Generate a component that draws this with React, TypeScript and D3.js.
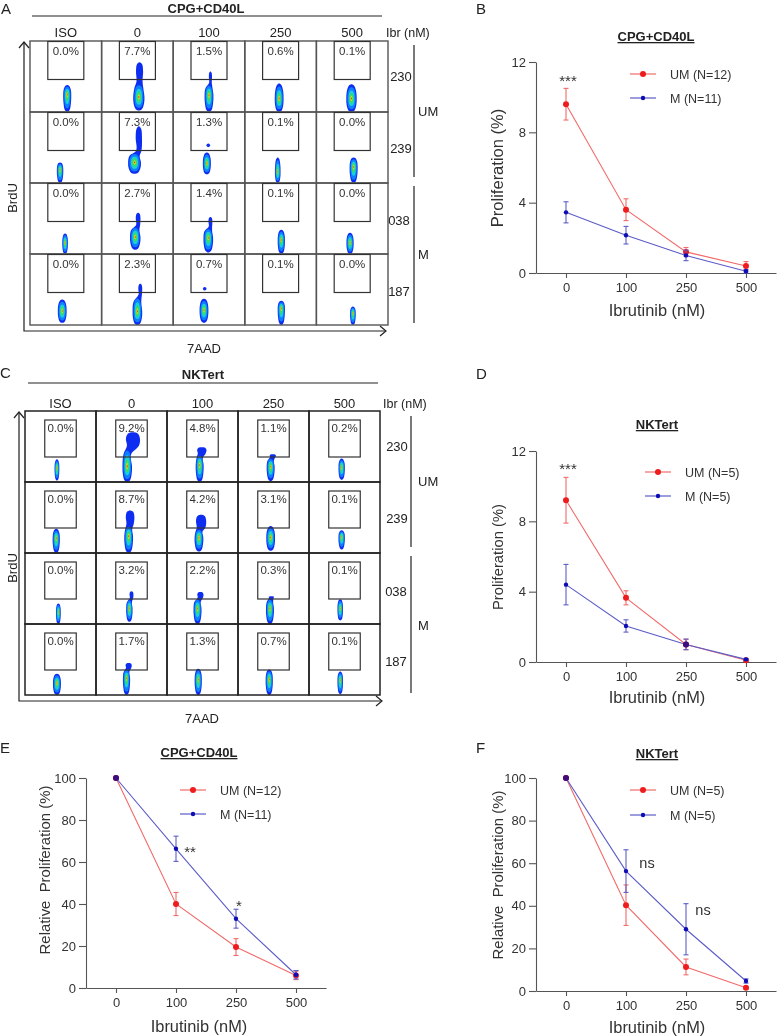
import { useEffect, useRef } from "react";
import * as d3 from "d3";

// ---- flow panels ----
const flowColumns = ["ISO", "0", "100", "250", "500"];
const flowRows = ["230", "239", "038", "187"];

const pctA = [
  ["0.0%", "7.7%", "1.5%", "0.6%", "0.1%"],
  ["0.0%", "7.3%", "1.3%", "0.1%", "0.0%"],
  ["0.0%", "2.7%", "1.4%", "0.1%", "0.0%"],
  ["0.0%", "2.3%", "0.7%", "0.1%", "0.0%"],
];
const pctC = [
  ["0.0%", "9.2%", "4.8%", "1.1%", "0.2%"],
  ["0.0%", "8.7%", "4.2%", "3.1%", "0.1%"],
  ["0.0%", "3.2%", "2.2%", "0.3%", "0.1%"],
  ["0.0%", "1.7%", "1.3%", "0.7%", "0.1%"],
];

// populations in % of plot range: [7AAD, BrdU, low, high, spread, tailTop, tailX, tailSpread, dotX, dotY]
const popsA = [
  [[52, 25, 0, 38, 5], [52, 21, 2, 42, 7, 70, 53, 4.5], [50, 24, 0, 40, 5.5, 57, 52, 2], [48, 19, 0, 40, 5.5], [49, 19, 0, 39, 6.5]],
  [[42, 19, 0, 29, 4], [46, 29, 13, 44, 8, 80, 52, 4], [47, 28, 12, 43, 5, 0, 0, 0, 49, 53], [46, 16, 0, 36, 3.5], [52, 23, 0, 36, 5]],
  [[49, 16, 0, 29, 3.5], [47, 24, 6, 40, 6.5, 58, 51, 3], [49, 23, 2, 38, 6, 52, 52, 2.5], [51, 20, 0, 34, 4.5], [47, 16, 0, 30, 4.5]],
  [[45, 20, 3, 36, 5.5], [50, 19, 0, 42, 6, 58, 54, 2.5], [43, 21, 3, 37, 5.5, 0, 0, 0, 44, 51], [51, 24, 0, 34, 4.5], [51, 17, 0, 26, 3.5]],
];
const popsC = [
  [[45, 20, 2, 32, 3], [44, 22, 0, 50, 6, 70, 52, 9], [46, 24, 0, 40, 5, 49, 49, 6], [46, 22, 1, 35, 5, 39, 49, 4], [46, 21, 3, 33, 4]],
  [[44, 21, 0, 34, 4.5], [46, 24, 0, 40, 5.5, 60, 48, 5.5], [45, 22, 2, 35, 5.5, 54, 48, 6.5], [46, 22, 3, 38, 5.5], [46, 23, 5, 32, 4]],
  [[47, 17, 0, 29, 3], [47, 22, 3, 36, 4, 46, 50, 2.5], [43, 22, 0, 37, 5, 45, 47, 4], [45, 22, 0, 37, 5, 39, 47, 3.5], [44, 22, 5, 35, 3.5]],
  [[45, 17, 0, 30, 5], [43, 24, 0, 38, 4.5, 45, 46, 4], [44, 22, 0, 37, 4.5], [44, 22, 0, 36, 4.5], [44, 21, 1, 33, 3.5]],
];

const densityColors = ["#0f2ef0", "#0a80ff", "#1cd0d0", "#3cdc5a", "#e6d818", "#e03010"];
const densityLevels = [1, 0.8, 0.56, 0.36, 0.18, 0.08];

// ---- line charts ----
const doses = ["0", "100", "250", "500"];

const umB = [9.6, 3.6, 1.2, 0.4];
const umBErr = [0.9, 0.62, 0.25, 0.25];
const mB = [3.45, 2.15, 1.0, 0.1];
const mBErr = [0.6, 0.5, 0.3, 0.1];

const umD = [9.2, 3.65, 1.0, 0.1];
const umDErr = [1.3, 0.4, 0.3, 0.05];
const mD = [4.4, 2.05, 1.0, 0.15];
const mDErr = [1.15, 0.35, 0.3, 0.05];

const umE = [100, 40, 19.5, 6];
const umEErr = [0, 5.5, 4, 2];
const mE = [100, 66.3, 33, 6.3];
const mEErr = [0, 6, 4.5, 2];

const umF = [100, 40.3, 11.3, 1.5];
const umFErr = [0, 9.5, 3.7, 0.5];
const mF = [100, 56.3, 29, 4.7];
const mFErr = [0, 10, 12, 1];

const FONT = "'Liberation Sans', Arial, sans-serif";
const RED = "#ee1c1c";
const BLUE = "#0a0ab4";

function put(g: any, x: number, y: number, s: string, size: number, opts: any = {}) {
  return g
    .append("text")
    .attr("x", x)
    .attr("y", y)
    .attr("font-size", size)
    .attr("font-weight", opts.bold ? 700 : 400)
    .attr("fill", opts.fill || "#222")
    .attr("text-anchor", opts.anchor || "middle")
    .style("white-space", "pre")
    .text(s);
}

// rounded contour of one population, with an optional tail of S-phase cells going up
function outline(p: number[]) {
  const [x, y, lo, hi, w0, tailTop, tailX, tailW] = p;
  const w = w0 * 1.12;
  const low = (t: number) => y - (y - lo) * t;
  const high = (t: number) => y + (hi - y) * t;
  const left: [number, number][] = [
    [x, lo],
    [x - w * 0.55, low(0.9)],
    [x - w * 0.92, low(0.5)],
    [x - w, y],
  ];
  const right: [number, number][] = [
    [x + w, y],
    [x + w * 0.92, low(0.5)],
    [x + w * 0.55, low(0.9)],
  ];
  if (!tailTop) {
    return [
      ...left,
      [x - w * 0.9, high(0.5)],
      [x - w * 0.5, high(0.9)],
      [x, hi],
      [x + w * 0.5, high(0.9)],
      [x + w * 0.9, high(0.5)],
      ...right,
    ] as [number, number][];
  }
  const tw = tailW * 1.1;
  const span = tailTop - hi;
  return [
    ...left,
    [x - w * 0.8, high(0.6)],
    [tailX - tw * 0.85, hi + span * 0.05],
    [tailX - tw, hi + span * 0.55],
    [tailX - tw * 0.72, tailTop - span * 0.1],
    [tailX, tailTop],
    [tailX + tw * 0.72, tailTop - span * 0.1],
    [tailX + tw, hi + span * 0.55],
    [tailX + tw * 0.85, hi + span * 0.05],
    [x + w * 0.8, high(0.6)],
    ...right,
  ] as [number, number][];
}

function drawFlow(svg: any, cfg: any) {
  const g = svg.append("g");
  const col = d3.scaleBand().domain(flowColumns).range(cfg.xRange);
  const row = d3.scaleBand().domain(flowRows).range(cfg.yRange);

  // header
  put(g, cfg.titleX, cfg.titleY, cfg.title, 13, { bold: true });
  g.append("line")
    .attr("x1", cfg.rule[0]).attr("x2", cfg.rule[1])
    .attr("y1", cfg.ruleY).attr("y2", cfg.ruleY)
    .attr("stroke", "#222").attr("stroke-width", 1.2);
  flowColumns.forEach((c) => put(g, col(c)! + col.bandwidth() / 2, cfg.headY, c, 13));
  put(g, cfg.ibrX, cfg.headY, "Ibr (nM)", 12.5, { anchor: "start" });

  const blobs = g.append("g");

  flowRows.forEach((r, i) => {
    flowColumns.forEach((c, j) => {
      const x0 = col(c)!;
      const y0 = row(r)!;
      const x = d3.scaleLinear().domain([0, 100]).range([x0, x0 + col.bandwidth()]);
      const y = d3.scaleLinear().domain([0, 100]).range([y0 + row.bandwidth(), y0]);
      const line = d3
        .line()
        .x((d: any) => x(d[0]))
        .y((d: any) => y(d[1]))
        .curve(d3.curveCatmullRomClosed);

      const p = cfg.pops[i][j];
      densityLevels.forEach((f, k) => {
        const scaled =
          k === 0
            ? p
            : [p[0], p[1], p[1] - (p[1] - p[2]) * f, p[1] + (p[3] - p[1]) * f, p[4] * f];
        blobs.append("path").attr("d", line(outline(scaled))).attr("fill", densityColors[k]);
      });
      if (p[8]) {
        blobs.append("circle").attr("cx", x(p[8])).attr("cy", y(p[9])).attr("r", 1.8).attr("fill", densityColors[0]);
      }

      g.append("rect")
        .attr("x", x0).attr("y", y0)
        .attr("width", col.bandwidth()).attr("height", row.bandwidth())
        .attr("fill", "none").attr("stroke", cfg.cellStroke).attr("stroke-width", cfg.cellWidth);

      const gx = x0 + col.bandwidth() / 2 - cfg.gateW / 2;
      const gy = y0 + cfg.gateTop;
      g.append("rect")
        .attr("x", gx).attr("y", gy)
        .attr("width", cfg.gateW).attr("height", cfg.gateH)
        .attr("fill", "none").attr("stroke", "#333").attr("stroke-width", 1.2);
      put(g, gx + cfg.gateW / 2, gy + cfg.pctDy, cfg.pct[i][j], 11.5, { fill: "#333" });
    });
    put(g, cfg.rowLabelX[i], cfg.rowLabelY[i], r, 13);
  });

  // group bars on the right
  cfg.bars.forEach((b: number[], i: number) => {
    g.append("line")
      .attr("x1", cfg.barX).attr("x2", cfg.barX)
      .attr("y1", b[0]).attr("y2", b[1])
      .attr("stroke", "#333").attr("stroke-width", 1.3);
    put(g, 418, b[2], i === 0 ? "UM" : "M", 13, { anchor: "start" });
  });

  // BrdU / 7AAD arrows
  const [ax, ay, top, right] = cfg.arrow;
  g.append("path")
    .attr("d", d3.line()([[ax, top], [ax, ay], [right, ay]]))
    .attr("fill", "none").attr("stroke", "#222").attr("stroke-width", 1.2);
  g.append("path")
    .attr("d", d3.line()([[ax - 5, top + 6], [ax, top], [ax + 5, top + 6]]))
    .attr("fill", "none").attr("stroke", "#222").attr("stroke-width", 1.2);
  g.append("path")
    .attr("d", d3.line()([[right - 6, ay - 5], [right, ay], [right - 6, ay + 5]]))
    .attr("fill", "none").attr("stroke", "#222").attr("stroke-width", 1.2);

  g.append("text")
    .attr("transform", `translate(17,${cfg.brduY}) rotate(-90)`)
    .attr("text-anchor", "middle").attr("font-size", 13).attr("fill", "#222")
    .text("BrdU");
  put(g, cfg.aadX, cfg.aadY, "7AAD", 13);
}

function drawChart(svg: any, cfg: any) {
  const g = svg.append("g");
  const x = d3.scalePoint().domain(doses).range(cfg.xRange).padding(0.5);
  const y = d3.scaleLinear().domain([0, cfg.yMax]).range(cfg.yRange);
  const color = "#555";

  g.append("g")
    .attr("transform", `translate(${cfg.xRange[0]},0)`)
    .call(d3.axisLeft(y).tickValues(cfg.yTicks).tickSize(7).tickSizeOuter(0).tickPadding(3))
    .call((a: any) => {
      a.selectAll("path,line").attr("stroke", color).attr("stroke-width", 1.1);
      a.selectAll("text").attr("font-size", 13).attr("font-family", FONT).attr("fill", "#333");
    });
  g.append("g")
    .attr("transform", `translate(0,${cfg.yRange[0]})`)
    .call(d3.axisBottom(x).tickSize(5).tickSizeOuter(0).tickPadding(5))
    .call((a: any) => {
      a.selectAll("path,line").attr("stroke", color).attr("stroke-width", 1.1);
      a.selectAll("text").attr("font-size", 13).attr("font-family", FONT).attr("fill", "#333");
    });

  const line = d3
    .line<number>()
    .x((_, i) => x(doses[i])!)
    .y((d) => y(d));

  const series = [
    { vals: cfg.um, err: cfg.umErr, lineColor: "#f26a6a", fill: RED, r: 3, label: cfg.legend[0] },
    { vals: cfg.m, err: cfg.mErr, lineColor: "#5c5cc8", fill: BLUE, r: 2.2, label: cfg.legend[1] },
  ];

  series.forEach((s, k) => {
    g.append("path").attr("d", line(s.vals)).attr("fill", "none").attr("stroke", s.lineColor).attr("stroke-width", 1.1);
    s.vals.forEach((v: number, i: number) => {
      const cx = x(doses[i])!;
      const e = s.err[i];
      if (e > 0) {
        const eb = g.append("g").attr("stroke", s.lineColor).attr("stroke-width", 1.1);
        eb.append("line").attr("x1", cx).attr("x2", cx).attr("y1", y(v + e)).attr("y2", y(Math.max(0, v - e)));
        [v + e, Math.max(0, v - e)].forEach((w) =>
          eb.append("line").attr("x1", cx - 2.5).attr("x2", cx + 2.5).attr("y1", y(w)).attr("y2", y(w)),
        );
      }
      // where both groups sit on the same value (100%) the marks read as purple
      const same = k === 1 && v === cfg.um[i];
      g.append("circle").attr("cx", cx).attr("cy", y(v)).attr("r", same ? 3 : s.r).attr("fill", same ? "#3c0a80" : s.fill);
    });

    // legend
    const ly = cfg.legendY[k];
    g.append("line")
      .attr("x1", cfg.legendX).attr("x2", cfg.legendX + 26)
      .attr("y1", ly).attr("y2", ly)
      .attr("stroke", s.lineColor).attr("stroke-width", 1.2);
    g.append("circle").attr("cx", cfg.legendX + 13).attr("cy", ly).attr("r", s.r).attr("fill", s.fill);
    put(g, cfg.legendX + 40, ly + 4.5, s.label, 12.5, { anchor: "start", fill: "#333" });
  });

  put(g, cfg.titleX, cfg.titleY, cfg.title, 13, { bold: true }).attr("text-decoration", "underline");
  put(g, cfg.labelX, cfg.labelY, "Ibrutinib (nM)", 16.4, { fill: "#333" });
  g.append("text")
    .attr("transform", `translate(${cfg.ylabel[0]},${cfg.ylabel[1]}) rotate(-90)`)
    .attr("text-anchor", "middle")
    .attr("font-size", cfg.ylabel[2])
    .attr("fill", "#333")
    .style("white-space", "pre")
    .text(cfg.ylabelText);
  (cfg.notes || []).forEach((n: any) => put(g, n[0], n[1], n[2], n[3], { fill: "#333" }));
}

export default function App() {
  const ref = useRef<SVGSVGElement>(null);

  useEffect(() => {
    const root = d3.select(ref.current);
    root.selectAll("*").remove();
    root.attr("font-family", FONT);
    root.append("defs").append("filter").attr("id", "soft")
      .attr("filterUnits", "userSpaceOnUse")
      .attr("x", 0).attr("y", 0).attr("width", 777).attr("height", 1036)
      .append("feGaussianBlur").attr("stdDeviation", 0.4);
    // the source figure is a soft, resampled image
    const svg = root.append("g").attr("filter", "url(#soft)");

    [["A", 1, 14], ["B", 476, 14], ["C", 0, 378], ["D", 476, 379], ["E", 0, 753], ["F", 476, 753]].forEach((l: any) =>
      put(svg, l[1], l[2], l[0], 15, { anchor: "start" }),
    );

    drawFlow(svg, {
      title: "CPG+CD40L", titleX: 206, titleY: 13, rule: [32, 382], ruleY: 16, headY: 37, ibrX: 386,
      xRange: [30, 388], yRange: [41, 325], cellStroke: "#555", cellWidth: 1.4,
      gateW: 36, gateH: 38, gateTop: 0.5, pctDy: 13,
      pct: pctA, pops: popsA,
      rowLabelX: [401, 401, 399, 399], rowLabelY: [81, 153, 225, 296],
      bars: [[45, 177, 116], [186, 323, 259]], barX: 414,
      arrow: [24, 331, 42, 386], brduY: 198, aadX: 204, aadY: 353,
    });
    drawFlow(svg, {
      title: "NKTert", titleX: 203, titleY: 379, rule: [28, 378], ruleY: 383, headY: 408, ibrX: 383,
      xRange: [25, 380], yRange: [411, 695], cellStroke: "#222", cellWidth: 1.5,
      gateW: 31.5, gateH: 37, gateTop: 9, pctDy: 12,
      pct: pctC, pops: popsC,
      rowLabelX: [397, 397, 396, 396], rowLabelY: [451, 523, 596, 666],
      bars: [[416, 547, 486], [556, 693, 630]], barX: 411,
      arrow: [19, 701, 412, 382], brduY: 568, aadX: 202, aadY: 723,
    });

    drawChart(svg, {
      um: umB, umErr: umBErr, m: mB, mErr: mBErr, yMax: 12, yTicks: [0, 4, 8, 12],
      xRange: [536, 776], yRange: [273, 62],
      title: "CPG+CD40L", titleX: 656, titleY: 41,
      legend: ["UM (N=12)", "M (N=11)"], legendX: 630, legendY: [74, 98],
      labelX: 657, labelY: 316, ylabel: [503, 168, 16.5], ylabelText: "Proliferation (%)",
      notes: [[568, 86, "***", 15]],
    });
    drawChart(svg, {
      um: umD, umErr: umDErr, m: mD, mErr: mDErr, yMax: 12, yTicks: [0, 4, 8, 12],
      xRange: [536, 776], yRange: [662, 451],
      title: "NKTert", titleX: 657, titleY: 429,
      legend: ["UM (N=5)", "M (N=5)"], legendX: 645, legendY: [472, 496],
      labelX: 657, labelY: 703, ylabel: [503, 557, 14.8], ylabelText: "Proliferation (%)",
      notes: [[568, 474, "***", 15]],
    });
    drawChart(svg, {
      um: umE, umErr: umEErr, m: mE, mErr: mEErr, yMax: 100, yTicks: [0, 20, 40, 60, 80, 100],
      xRange: [86, 326], yRange: [988, 778],
      title: "CPG+CD40L", titleX: 199, titleY: 757,
      legend: ["UM (N=12)", "M (N=11)"], legendX: 180, legendY: [790, 814],
      labelX: 199, labelY: 1032, ylabel: [50, 870, 14.9], ylabelText: "Relative  Proliferation (%)",
      notes: [[190, 857, "**", 15], [239, 911, "*", 15]],
    });
    drawChart(svg, {
      um: umF, umErr: umFErr, m: mF, mErr: mFErr, yMax: 100, yTicks: [0, 20, 40, 60, 80, 100],
      xRange: [536, 776], yRange: [991, 778],
      title: "NKTert", titleX: 657, titleY: 758,
      legend: ["UM (N=5)", "M (N=5)"], legendX: 630, legendY: [790, 815],
      labelX: 657, labelY: 1033, ylabel: [503, 875, 14.9], ylabelText: "Relative  Proliferation (%)",
      notes: [[647, 868, "ns", 14.5], [703, 915, "ns", 14.5]],
    });
  }, []);

  return <svg ref={ref} width={777} height={1036} style={{ position: "absolute", left: 0, top: 0, background: "#fff" }} />;
}
